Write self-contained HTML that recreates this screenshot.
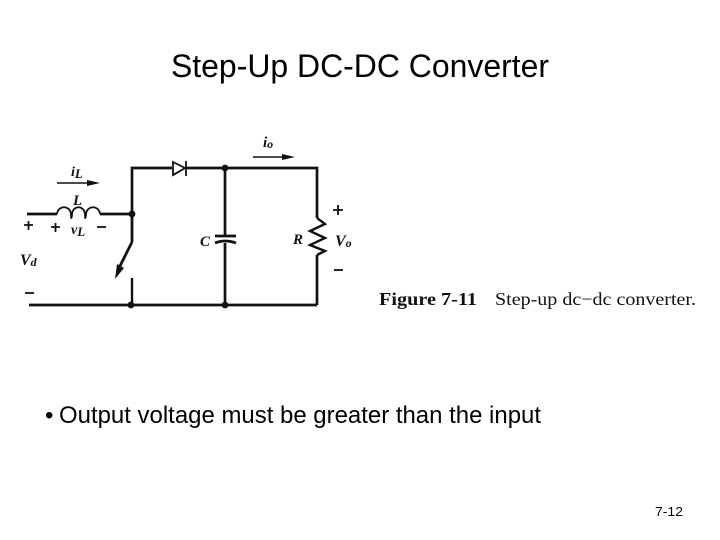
<!DOCTYPE html>
<html>
<head>
<meta charset="utf-8">
<style>
html,body{margin:0;padding:0;background:#fff;}
body{width:720px;height:540px;overflow:hidden;position:relative;}
svg{position:absolute;left:0;top:0;}
</style>
</head>
<body>
<svg width="720" height="540" viewBox="0 0 720 540" xmlns="http://www.w3.org/2000/svg">
<rect width="720" height="540" fill="#fff"/>
<text x="360" y="77" text-anchor="middle" font-family="'Liberation Sans',sans-serif" font-size="32" fill="#000" textLength="378" lengthAdjust="spacingAndGlyphs">Step-Up DC-DC Converter</text>
<g fill="none" stroke="#111" stroke-width="2.700">
<path d="M27 214H57M100 214H132"/>
<path d="M132 214V168H172M186 168H317V218M317 255V305M29 305H317"/>
<path d="M132 214V242" stroke-width="2.800"/>
<path d="M132 278V305" stroke-width="2.400"/>
<path d="M225 168V236M225 243V305"/>
<path d="M215 236H236" />
<path d="M215 243Q225 239 236 243" />
</g>
<path d="M57 214C58 205 70 205 71 214C71 222 72 216 72 214C73 205 84 205 85 214C85 222 86 216 86 214C87 205 99 205 100 214" fill="none" stroke="#111" stroke-width="1.800"/>
<path d="M132 242L119 268" stroke="#111" stroke-width="2.800" fill="none"/>
<path d="M115 279L117 264L124 268Z" fill="#111"/>
<path d="M173 162L185 168L173 175Z" fill="#fff" stroke="#111" stroke-width="1.800"/>
<path d="M186 161V176" stroke="#111" stroke-width="1.800"/>
<path d="M317 218L325 224L310 231L325 238L310 245L325 251L317 255" fill="none" stroke="#111" stroke-width="2.400"/>
<g fill="#111">
<circle cx="132" cy="214" r="3.400"/>
<circle cx="131" cy="305" r="3.400"/>
<circle cx="225" cy="168" r="3.400"/>
<circle cx="225" cy="305" r="3.400"/>
</g>
<path d="M57 183H92" stroke="#111" stroke-width="1.500"/>
<path d="M100 183L87 180V186Z" fill="#111"/>
<path d="M253 157H287" stroke="#111" stroke-width="1.500"/>
<path d="M295 157L282 154V160Z" fill="#111"/>
<g font-family="'Liberation Serif',serif" font-weight="bold" font-style="italic" fill="#111">
<text x="71" y="176" font-size="14">i<tspan font-size="13" dy="2">L</tspan></text>
<text x="73" y="205" font-size="15">L</text>
<text x="71" y="234" font-size="14">v<tspan font-size="13" dy="2">L</tspan></text>
<text x="20" y="265" font-size="16">V<tspan font-size="12" dy="1">d</tspan></text>
<text x="263" y="147" font-size="15">i<tspan font-size="12" dy="1">o</tspan></text>
<text x="200" y="246" font-size="15">C</text>
<text x="293" y="244" font-size="15">R</text>
<text x="335" y="246" font-size="16">V<tspan font-size="12" dy="1">o</tspan></text>
</g>
<g stroke="#111" stroke-width="1.800">
<path d="M24 225H33M28.500 221V230"/>
<path d="M51 227H60M55.500 223V232"/>
<path d="M97 227H106"/>
<path d="M25 293H34"/>
<path d="M333 210H343M338 205V215"/>
<path d="M334 270H343"/>
</g>
<text x="379" y="305" font-family="'Liberation Serif',serif" font-weight="bold" font-size="18" fill="#111" textLength="98" lengthAdjust="spacingAndGlyphs">Figure 7-11</text>
<text x="495" y="305" font-family="'Liberation Serif',serif" font-size="18" fill="#111" textLength="201" lengthAdjust="spacingAndGlyphs">Step-up dc−dc converter.</text>
<text x="45" y="423" font-family="'Liberation Sans',sans-serif" font-size="24" fill="#000">•</text>
<text x="59" y="423" font-family="'Liberation Sans',sans-serif" font-size="24" fill="#000" textLength="482" lengthAdjust="spacingAndGlyphs">Output voltage must be greater than the input</text>
<text x="655" y="516" font-family="'Liberation Sans',sans-serif" font-size="13" fill="#000" textLength="28" lengthAdjust="spacingAndGlyphs">7-12</text>
</svg>
</body>
</html>
